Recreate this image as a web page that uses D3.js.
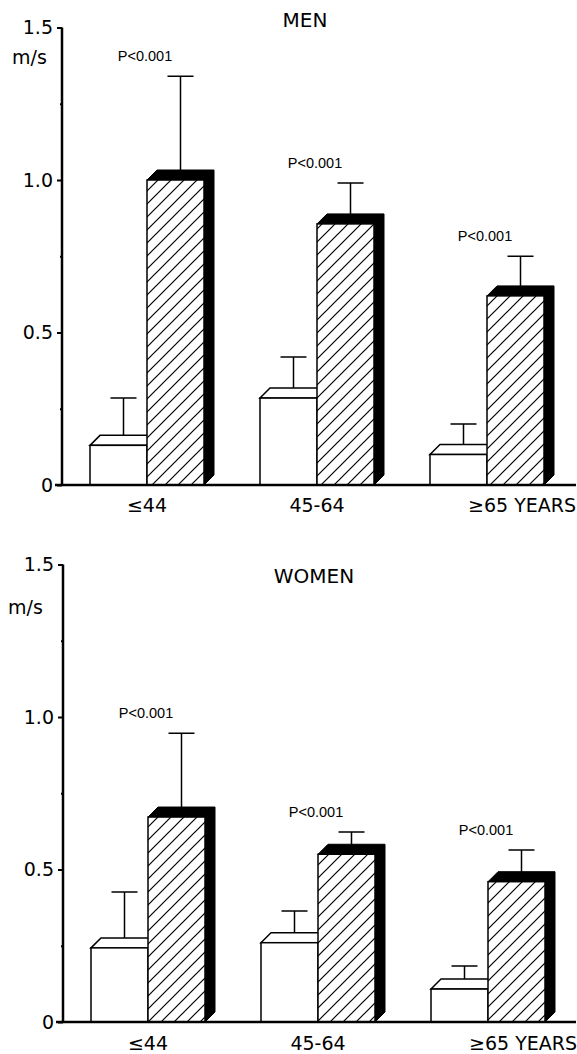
<!DOCTYPE html>
<html>
<head>
<meta charset="utf-8">
<script src="https://cdn.jsdelivr.net/npm/d3@7"></script>
<style>
  body { margin: 0; background: #fff; }
  svg { display: block; }
</style>
</head>
<body>
<main></main>
<script>
// values (m/s)
const groups = ["≤44", "45-64", "≥65"];
const xLabels = ["≤44", "45-64", "≥65 YEARS"];
const yTicks = [0, 0.5, 1.0, 1.5];
const yTickLabels = ["0", "0.5", "1.0", "1.5"];
const yMinorTicks = [0.25, 0.75, 1.25];

const menControl = [0.13, 0.285, 0.10];
const menControlErr = [0.285, 0.42, 0.20];
const menPatient = [1.0, 0.856, 0.62];
const menPatientErr = [1.34, 0.99, 0.75];
const menP = ["P<0.001", "P<0.001", "P<0.001"];

const womenControl = [0.243, 0.26, 0.108];
const womenControlErr = [0.426, 0.364, 0.184];
const womenPatient = [0.672, 0.55, 0.46];
const womenPatientErr = [0.947, 0.623, 0.564];
const womenP = ["P<0.001", "P<0.001", "P<0.001"];

const width = 577, height = 1054;
const depth = 10, barW = 57, capHalf = 13;
const font = "'DejaVu Sans', Verdana, sans-serif";
const pFont = "'Liberation Sans', Arial, sans-serif";

const svg = d3.select("main").append("svg")
    .attr("width", width)
    .attr("height", height);

const defs = svg.append("defs");
defs.append("pattern")
    .attr("id", "hatch")
    .attr("patternUnits", "userSpaceOnUse")
    .attr("width", 13)
    .attr("height", 13)
    .append("path")
    .attr("d", "M0,13 L13,0 M-3,3 L3,-3 M10,16 L16,10")
    .attr("stroke", "#000")
    .attr("stroke-width", 1.2);

function panel(o) {
    const g = svg.append("g");
    const y = d3.scaleLinear().domain([0, 1.5]).range([o.base, o.base - 457.5]);
    const x = d3.scaleBand().domain(groups).range([62 + o.dx, 572 + o.dx]);
    const c = d => x(d) + x.bandwidth() / 2;

    // y axis
    const axis = g.append("g")
        .attr("transform", `translate(${62 + o.dx},0)`)
        .call(d3.axisLeft(y).tickValues(yTicks).tickSize(5).tickPadding(4)
            .tickFormat((d, i) => yTickLabels[i]));
    axis.select(".domain").attr("d", `M0,${y(1.5)}V${y(0)}`).attr("stroke-width", 2.5);
    axis.selectAll(".tick line").attr("stroke-width", 2);
    axis.selectAll(".tick text")
        .attr("font-family", font).attr("font-size", 19).attr("fill", "#000");
    g.append("g")
        .attr("transform", `translate(${62 + o.dx},0)`)
        .call(d3.axisLeft(y).tickValues(yMinorTicks).tickSize(2).tickFormat(""))
        .call(s => s.select(".domain").remove())
        .selectAll(".tick line").attr("stroke-width", 2);

    g.append("text")
        .attr("x", o.msX).attr("y", o.msY)
        .attr("font-family", font).attr("font-size", 19)
        .text("m/s");

    g.append("text")
        .attr("x", o.titleX).attr("y", o.titleY)
        .attr("text-anchor", "middle")
        .attr("font-family", font).attr("font-size", 20)
        .text(o.title);

    const rows = groups.map((d, i) => ({
        key: d, c: c(d),
        ctl: o.control[i], ctlErr: o.controlErr[i],
        pat: o.patient[i], patErr: o.patientErr[i],
        p: o.p[i]
    }));

    const bars = g.selectAll(".grp").data(rows).join("g").attr("class", "grp");

    // control (white) bar, 3D
    bars.append("polygon")
        .attr("points", d => {
            const yt = y(d.ctl);
            return [[d.c - barW, yt], [d.c - barW + depth, yt - depth],
                    [d.c + depth, yt - depth], [d.c, yt]].join(" ");
        })
        .attr("fill", "#fff").attr("stroke", "#000").attr("stroke-width", 1.5);
    bars.append("rect")
        .attr("x", d => d.c - barW)
        .attr("y", d => y(d.ctl))
        .attr("width", barW)
        .attr("height", d => y(0) - y(d.ctl))
        .attr("fill", "#fff").attr("stroke", "#000").attr("stroke-width", 1.5);

    // patient (hatched) bar, 3D with black top and side
    bars.append("polygon")
        .attr("points", d => {
            const yt = y(d.pat), b = y(0);
            return [[d.c, yt], [d.c + depth, yt - depth], [d.c + barW + depth, yt - depth],
                    [d.c + barW + depth, b - depth], [d.c + barW, b], [d.c + barW, yt]].join(" ");
        })
        .attr("fill", "#000").attr("stroke", "#000").attr("stroke-width", 1);
    bars.append("rect")
        .attr("x", d => d.c)
        .attr("y", d => y(d.pat))
        .attr("width", barW)
        .attr("height", d => y(0) - y(d.pat))
        .attr("fill", "#fff");
    bars.append("rect")
        .attr("x", d => d.c)
        .attr("y", d => y(d.pat))
        .attr("width", barW)
        .attr("height", d => y(0) - y(d.pat))
        .attr("fill", "url(#hatch)").attr("stroke", "#000").attr("stroke-width", 1.5);

    // error bars
    const err = (sel, xf, top, val) => {
        sel.append("path")
            .attr("d", d => {
                const ex = xf(d), y1 = y(top(d)) - depth, y2 = y(val(d));
                return `M${ex},${y1}V${y2}M${ex - capHalf},${y2}H${ex + capHalf}`;
            })
            .attr("fill", "none").attr("stroke", "#000").attr("stroke-width", 1.5);
    };
    err(bars, d => d.c - barW / 2 + depth / 2, d => d.ctl, d => d.ctlErr);
    err(bars, d => d.c + barW / 2 + depth / 2, d => d.pat, d => d.patErr);

    // p values
    bars.append("text")
        .attr("x", d => d.c - 2)
        .attr("y", d => y(d.patErr) - 15)
        .attr("text-anchor", "middle")
        .attr("font-family", pFont).attr("font-size", 14.5)
        .text(d => d.p);

    // baseline
    g.append("line")
        .attr("x1", 55 + o.dx).attr("x2", 576)
        .attr("y1", y(0)).attr("y2", y(0))
        .attr("stroke", "#000").attr("stroke-width", 2.5);

    // category labels
    g.selectAll(".xl").data(groups).join("text")
        .attr("class", "xl")
        .attr("x", (d, i) => i === groups.length - 1 ? c(d) - 19 : c(d))
        .attr("y", o.base + o.labelGap)
        .attr("text-anchor", (d, i) => i === groups.length - 1 ? "start" : "middle")
        .attr("font-family", font).attr("font-size", 19)
        .text((d, i) => xLabels[i]);
}

panel({
    base: 485, dx: 0, title: "MEN", titleX: 305, titleY: 27,
    msX: 12, msY: 64, labelGap: 27,
    control: menControl, controlErr: menControlErr,
    patient: menPatient, patientErr: menPatientErr, p: menP
});

panel({
    base: 1022, dx: 1, title: "WOMEN", titleX: 314, titleY: 583,
    msX: 8, msY: 614, labelGap: 28,
    control: womenControl, controlErr: womenControlErr,
    patient: womenPatient, patientErr: womenPatientErr, p: womenP
});
</script>
</body>
</html>
